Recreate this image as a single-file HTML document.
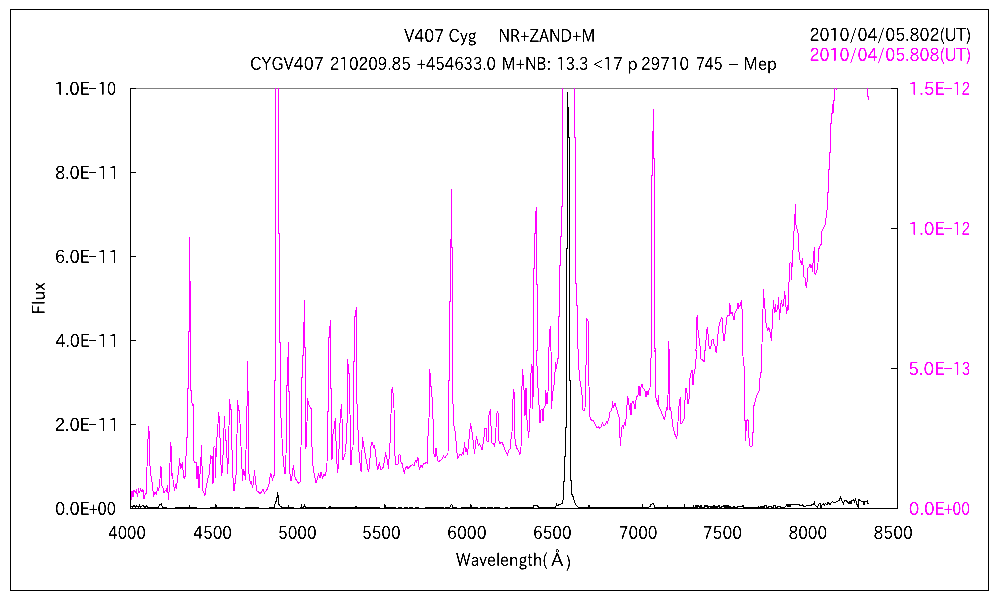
<!DOCTYPE html>
<html><head><meta charset="utf-8"><title>V407 Cyg spectrum</title>
<style>html,body{margin:0;padding:0;background:#fff}svg{display:block}text{font-family:"IPAPGothic","IPAGothic","Liberation Sans",sans-serif;white-space:pre}</style>
</head><body>
<svg width="1000" height="600" viewBox="0 0 1000 600" style="will-change:transform">
<rect x="0" y="0" width="1000" height="600" fill="#fff"/>
<rect x="10.5" y="9.5" width="978" height="581" fill="none" stroke="#000" stroke-width="1" shape-rendering="crispEdges"/>
<defs><clipPath id="pc"><rect x="130" y="88" width="768" height="421"/></clipPath></defs>
<line x1="130" y1="88.5" x2="898" y2="88.5" stroke="#808080" stroke-width="1" shape-rendering="crispEdges"/>
<g clip-path="url(#pc)">
<polyline points="130.5,503.5 131,500 132,491 133,497 134,490 135.5,492 136.5,490 137.5,497 138.5,488.5 139.5,493 140.5,489 142,492 143,489.5 144,499 145,495 146.5,493 147,467 148.5,426 149.5,435.5 150,465.5 151,476 152.5,485.5 153.5,497 155,492 156.5,494 157.5,487.5 158.5,491 159.5,485 161,466.5 162,486 163,488 164,493 165.5,490.5 166.5,491 167.5,485.5 168.5,500 169.5,484 170.5,442.5 171.5,450 172,476 172.5,473 173.5,485.5 174.5,489 175.5,486 176.5,489 177.5,476.5 178.5,474 179.5,458.5 180.5,468 181.5,467 182.5,462 183.5,477 184.5,478 185.5,475 186.5,438 187.5,437 187.5,390 187.5,388 188.5,388 188.5,331 189.5,331 189.5,237 189.5,281 190.5,281 190.5,390 191,390 192,403 193,405.5 193.5,404.5 194,461 195,463 196,462 197,479 198,466 199,488 199.5,480 200.5,469 201.5,445 202,466 203,491 204,493 205,495.5 206,488 207.5,480 208.5,476 209.5,474 210.5,455 211.5,458 212.5,456 213,484 214,447 215,446 215.5,478 216.5,438 217.5,436 218.5,412 219.5,420 220.5,454 221.5,476 222.5,470 223.5,441 224.5,416 225.5,440 226.5,441 227.5,474 228.5,454 229.5,399 230.5,409 231,409 232,450 233,478 234,491 235.5,480 236.5,470 237.5,400 238.5,410 239.5,410 240.5,436 241.5,456 242.5,481 243.5,470 244.5,472 245.5,480 246.5,421 247.5,392 247.5,361 247.5,391 248.5,392 249,474 250.5,484 251.5,481 252.5,488 253.5,483 254.5,470 255.5,482 257,491 258.5,492 260,494 261.5,492 263,489 264.5,493 266,491 267.5,489 269,484 270.5,473.5 271.5,475 272.5,481 273.5,476 274.5,475 274.5,390 274.5,381 275.5,380 275.5,80 278.5,80 278.5,233 279.5,233 279.5,342 280.5,342 280.5,390 281,418 282.5,448 283.5,464 285,474 286,456 286.5,393 286.5,385 287.5,385 287.5,357 288.5,357 288.5,342 288.5,390 289.5,393 290,474 291,481 292,476 293.5,465 294.5,474 295.5,479 297,481 298.5,483 300,482 301,448 301.5,390 301.5,377 302.5,377 302.5,355 303.5,355 303.5,322 304.5,322 304.5,300 304.5,347 305.5,347 305.5,390 305.5,448 306.5,446.5 307.5,398 308.5,404 310,407 311.5,409 312,447 313,466 314.5,476 316,483 317.5,478 318.5,474 320,478 321,472.5 322.5,478 324,474 325,476 326,472 327,464 327.5,413 328.5,410 328.5,390 328.5,337 329.5,337 329.5,326 330.5,326 330.5,320 330.5,388 331.5,388 331.5,390 332,459.5 333,434 334,429 335.5,418 336,441 337,464 337.5,473 338.5,465 339.5,433 340.5,414 341.5,404 342.5,432 343,460 344,457 345.5,452.5 346.5,436 347.5,410 347.5,390 347.5,359 347.5,364 348.5,364 348.5,373 349.5,373 349.5,390 349.5,390 350.5,437.5 351,465 352,450 353,448 353.5,390 353.5,361 354.5,361 354.5,316 355.5,316 355.5,310 356.5,310 356.5,307 356.5,390 356.5,390 356.5,398 357.5,410 358.5,448 359.5,456 360.5,469 361.5,472 362,450 362.5,437.5 363.5,444 364.5,450 366,459 367.5,467 368.5,472 369.5,467 370.5,450 371.5,442.5 372.5,443 373.5,447 374.5,446 375.5,452 376.5,462 377.5,470 378.5,467 379.5,462 380.5,469 382,469 383.5,467 384.5,460 385.5,453.5 386.5,456 387.5,461 388.5,469 389.5,450 390.5,436 391.5,392 392.5,387 393,393 394,408 394.5,448 395.5,464 396.5,464.5 398,464 399,455 400,454.5 401,462 402.5,464 403.5,471 404.5,473 405.5,468 407,466.5 408,469 409.5,467 411,465.5 412.5,464.5 414,465.5 415.5,460.5 416.5,462 418,457.5 418.5,465 419.5,468.5 421,465.5 422.5,467.5 423.5,463.5 425,464 426,462.5 427.5,463 428,436 429,418 429.5,390 429.5,369 429.5,373 430.5,373 430.5,386 431.5,386 431.5,390 431.5,390 432.5,404 433.5,433 434,454 435,457 436,448 437,456 438,461 439.5,461 441,460 442.5,458.5 443.5,456 445,458 446.5,455.5 448,454.5 448.5,390 448.5,380 449.5,380 449.5,301 450.5,301 450.5,239 451.5,239 451.5,189 451.5,247 452.5,247 452.5,390 452.5,390 453,404 454,426 455.5,433 456.5,448 457.5,458 458.5,457 460,454.5 461.5,455 462.5,453 463.5,454 464.5,442.5 465.5,452 466.5,448 467.5,455 468.5,444 469.5,435 470.5,423 471.5,428 472.5,436 473.5,443 474.5,454 475.5,444 476.5,436 477.5,442.5 478.5,445 479.5,443.5 480.5,446 482,450 483,444 484,437 485,428.5 486.5,429 487,441 488,442 489,415 490.5,409.5 491,426 492,443 493.5,443.5 494.5,446 495.5,440 496.5,416 497.5,411 498.5,415 499,441 500,444 501,442.5 502.5,443 503.5,446 505,450 506.5,453.5 507.5,455 508.5,451 510,449 511,439 512,432 512.5,408 513.5,390 513.5,389 514.5,395 515,438.5 515.5,444 517,448.5 518.5,450.5 519.5,453 520,454.5 521,448 521.5,404 522.5,369 523.5,380 524.5,399 525,416 526,388 527,420 528,431 528.5,438 529.5,426 530.5,392 531,373 532,364 532.5,409 533.5,386 533.5,350 533.5,268 534.5,268 534.5,233 535.5,233 535.5,211 536.5,211 536.5,207 536.5,284 537.5,284 537.5,350 536.5,350 537.5,382 538.5,393 539,405 540,423 541,410 542,409 543,421 544,408 545,406 545.5,390 546.5,396 547,404 548,392 549,350 548.5,350 549.5,344 549.5,333 550.5,326 550.5,350 551,350 551.5,409 552.5,394 553.5,388 554.5,382 555.5,362 556.5,369 557.5,359 558.5,358 559,350 558.5,350 558.5,316 559.5,316 559.5,265 560.5,265 560.5,236 561.5,236 561.5,206 562.5,206 562.5,80 574.5,80 574.5,137 575.5,137 575.5,283 576.5,283 576.5,305 577.5,305 577.5,348 578.5,350 579,370 580,381 581,387 582,395 583,410 584,411 585,408 585.5,381 586.5,350 586.5,319 587.5,320 588.5,322 588.5,350 588.5,350 589,386 589.5,414 590.5,419 592,421 593,420 594.5,423.5 595.5,425 597,428 598.5,427 599.5,428 601,427 602.5,423 603.5,425.5 605,425 606.5,422 607.5,423 609,418 610,412 611,411 612,408 612.5,401 613.5,408 615,403 616,407 617,410 618,414 619,417 619.5,430 620.5,446 621.5,428 622.5,426 623.5,428 624.5,423 625.5,425 626.5,414 627.5,396.5 628.5,399 629.5,410 630.5,403 631,415 632,403 633,401.5 634,404 635,409 636,400 637,396.5 638,395 639,386 640,396 641,387 642,384 643,388 644,389 645,391 646,397 647,391 648,395 649,390 650,388 650.5,366 651.5,350 651.5,230 651.5,175 652.5,175 652.5,131 653.5,131 653.5,109 653.5,158 654.5,158 654.5,348 655.5,348 655,350 655.5,397 656.5,399 657.5,405 658.5,395 659,407 660,409 661,411 662.5,415 663.5,417 664.5,420 665.5,414 666.5,408 667.5,410 668,396 668.5,350 668.5,341 669.5,357 670,410 670.5,407 671.5,414 672.5,424 673.5,429 674.5,433 675.5,436 676.5,438 677.5,434 678.5,410 679.5,402 680.5,397 681,423 682,423 683,421 684,419 685,400 686,388 687,393 688,404 689,399 690,378 691,373 692,370 693,385 694,374 695,369 696,359 697,350 696,350 696.5,319 697.5,315 698,330 699,338 700,346 700.5,350 701,359 702.5,360 704,362 705,350 705.5,350 706.5,330 707.5,328 708,334 709,346 710,349 711,346 712,340 713,339 714,344 715,346 715.5,350 716.5,353 717,346 717,345 717.5,339 718.5,329 719.5,324 720.5,320 721.5,318 722.5,319 723,333 724,341 725,334 726,325 727,317 728,315 729,316 729.5,303 730.5,307 731,314 732,312 733,316 734,320 735,313 736,311 737,309 738,303 738.5,308 739.5,306 740.5,305 741.5,300 742,309 742.5,311 742.5,345 742.5,347 743.5,365 744.5,367 744.5,420 745.5,421 745.5,441 746.5,421 747.5,420 748.5,421 748.5,434 750,446 752,446.5 752.5,433 753.5,432 753.5,407 754.5,404 756.5,396 759,391.5 759.5,382 760.5,374 761.5,371 762,344 762,343 762.5,329 763.5,289 764.5,306 765,309 765.5,321 766.5,325 767.5,331 768.5,328 769.5,329 770.5,335 771.5,341 772,329 772.5,319 773.5,300 774.5,313 775.5,304 776,312 777,310 778,305 778.5,297 779.5,320 780.5,307 781.5,300 782.5,307 783.5,304 784,299 784.5,291 785.5,299 786.5,314 787.5,305 788,311 788.5,283 789.5,281 790,263 791,262 791.5,280 792.5,255 793.5,246 794,231 794.5,225 795.5,204 796,225 797,229 798,233 798.5,245 799.5,258 800.5,262 801.5,264 802.5,258 803,265 804,277 805,278 805.5,284 806.5,288 807.5,277 808,268 809,267 810,264 811,268 812,265 812.5,272 813.5,255 814.5,247 814.5,273 815.5,274 816.5,272 817.5,268 818,263 818.5,250 819.5,247 820.5,245 821.5,244 822,231 823,229 824,227 825,225 826.5,215 827.5,205 827.5,192 828.5,192 828.5,169 829.5,169 829.5,152 830.5,152 830.5,123 831.5,123 831.5,113 832.5,113 832.5,104 832.5,112 833.5,112 833.5,100 834.5,100 834.5,80 836.5,80 836.5,90 836.5,80 867.5,80 867.5,96 868.5,96 868.5,100" fill="none" stroke="#ff00ff" stroke-width="1" shape-rendering="crispEdges"/>
<polyline points="130.5,506.5 131.5,506.5 132.5,507.5 133.5,505.5 134.5,505.5 135.5,507.5 136.5,505.5 137.5,506.5 138.5,507.5 139.5,505.5 140.5,507.5 141.5,506.5 142.5,505.5 143.5,505.5 144.5,507.5 145.5,507.5 146.5,505.5 147.5,506.5 148,507.5 158,507.5 158.5,507.5 159.5,504.5 161.5,504 162.5,507.5 162.5,507.5 166,507.5 166,508.5 175,508.5 175,507.5 189,507.5 189,507.5 189.5,505 190,507.5 190,507.5 196,507.5 196,508.5 210,508.5 210,507.5 215.5,507.5 215.5,507.5 216,504.5 216.5,507.5 216.5,507.5 232,507.5 232,508.5 234,508.5 234,507.5 239,507.5 239,508.5 245,508.5 245,507.5 258,507.5 258,508.5 269.5,508.5 269.5,507.5 274.5,507.5 274.5,508 275.5,501 276.5,501 276.5,497 277.5,497 277.5,492 277.5,495 278.5,495 278.5,504 279.5,504.5 280,506 281,506.5 281.5,507.5 281.5,507.5 288,507.5 288,507.5 288.5,505 289,507.5 289,507.5 293,507.5 293,508.5 300.5,508.5 300.5,507.5 301,507.5 301.5,507.5 301.5,504 302,508 303.5,507 304.5,505 305,506.5 306,507.5 306,507.5 325,507.5 325,508.5 328,508.5 328,507.5 329.5,507.5 329.5,507.5 330,506 330.5,507.5 330.5,507.5 355.5,507.5 355.5,507.5 356,506 356.5,507.5 356.5,507.5 379,507.5 379,508.5 384,508.5 384,507.5 384.5,507.5 384.5,507.5 385,504.5 385.5,507.5 385.5,507.5 395,507.5 395,508.5 398,508.5 398,507.5 401,507.5 401,508.5 404,508.5 404,507.5 407,507.5 407,508.5 409,508.5 409,507.5 412,507.5 412,508.5 415,508.5 415,507.5 418,507.5 418,508.5 425,508.5 425,507.5 443,507.5 443,508.5 445,508.5 445,507.5 450,507.5 450,507.5 450.5,505.5 451.5,504.5 452.5,506 453,507.5 453,507.5 456,507.5 456,508.5 461,508.5 461,507.5 470.5,507.5 470.5,507.5 471,504.5 471.5,507.5 471.5,507.5 477,507.5 477,508.5 480,508.5 480,507.5 485,507.5 485,508.5 487,508.5 487,507.5 492,507.5 492,508.5 494,508.5 494,507.5 499,507.5 499,508.5 505,508.5 505,507.5 507,507.5 507,508.5 510,508.5 510,507.5 533,507.5 533,507.5 534,505.5 537,505.5 539,507.5 539,507.5 555.5,507.5 555.5,507.5 556.5,504.5 557,506 558.5,505 560.5,504.5 562.5,503 563.5,496.5 563.5,481 564.5,481 564.5,456 565.5,456 565.5,427 566.5,427 566.5,248 567.5,248 567.5,92 567.5,107 568.5,107 568.5,137 569.5,137 569.5,380 570.5,380 570.5,480 571.5,480.5 572,494.5 573,496.5 574.5,501.5 576,505 577.5,506.5 578.5,507.5 578.5,507.5 588.5,507.5 588.5,507.5 589,505 589.5,507.5 589.5,507.5 642,507.5 642,507.5 642.5,504 643,507.5 643,507.5 648,507.5 648,507.5 650,506.5 651,504.5 653,503.5 654,504.5 654.5,507.5 654.5,507.5 667,507.5 667,507.5 667.5,505 668,507.5 668,507.5 684,507.5 684,507.5 684.5,504.5 685,507.5 685,507.5 693,507.5 693,505.5 694,507.5 695,507.5 696,505.5 697,507.5 698,505.5 699,506.5 700,507.5 701,505.5 702,507.5 703,507.5 704,507.5 705,505.5 706,506.5 707,505.5 708,507.5 709,506.5 710,506.5 711,507.5 712,506.5 713,507.5 714,505.5 715,507.5 716,506.5 717,507.5 718,506.5 719,505.5 720,507.5 721,507.5 722,506.5 723,506.5 724,505.5 725,507.5 726,505.5 727,507.5 728,505.5 729,507.5 730,506.5 731,507.5 732,507.5 733,507.5 734,506.5 735,507.5 736,507.5 737,507.5 738,506.5 739,506.5 740,506.5 741,506.5 742,506.5 743,505.5 744,507.5 745,507.5 758,507.5 758,506 759,507.5 760,507.5 761,506 762,507.5 763,506 764,507.5 765,505 766,505 767,507.5 768,507.5 769,506 770,506 771,506 772,507.5 773,507.5 774,505 775,505 776,507.5 777,507.5 778,506 779,506 780,506 781,507.5 782,507.5 783,507.5 784,507.5 785,507 787,504.5 788,507 789,504.5 790,506.5 791,504.5 799,504.5 801,506 802.5,505 804,506.5 806,506 808,505.5 810,506 811.5,505 813.5,504.5 814.5,501 814.5,504.5 816,506 817.5,507.5 818.5,504.5 820,503.5 821,507.5 822,505 823.5,504 824.5,505 825.5,503.5 827,504.5 828,502 829,503.5 830,504.5 831,503 832.5,501.5 834,502.5 836,502 837.5,501.5 839,500.5 840.5,497 841.5,500 842.5,502 843.5,504 844.5,500.5 846,500.5 847.5,502 849,503.5 850,501.5 851,503.5 852,500.5 853.5,499.5 854.5,501.5 855.5,499.5 856.5,503 857.5,506 858.5,508 859,499 860,500.5 861.5,501.5 863,501.5 864,505 865,501.5 866.5,501.5 867.5,500.5 868,503.5 868.5,504" fill="none" stroke="#000" stroke-width="1" shape-rendering="crispEdges"/>
</g>
<g stroke="#000" stroke-width="1" shape-rendering="crispEdges" fill="none">
<line x1="130.5" y1="88" x2="130.5" y2="509"/>
<line x1="897.5" y1="88" x2="897.5" y2="509"/>
<line x1="130" y1="508.5" x2="898" y2="508.5"/>
<line x1="130" y1="88.5" x2="136" y2="88.5"/>
<line x1="130" y1="172.5" x2="136" y2="172.5"/>
<line x1="130" y1="256.5" x2="136" y2="256.5"/>
<line x1="130" y1="340.5" x2="136" y2="340.5"/>
<line x1="130" y1="424.5" x2="136" y2="424.5"/>
<line x1="130" y1="508.5" x2="136" y2="508.5"/>
<line x1="891" y1="88.5" x2="898" y2="88.5"/>
<line x1="891" y1="228.5" x2="898" y2="228.5"/>
<line x1="891" y1="368.5" x2="898" y2="368.5"/>
<line x1="891" y1="508.5" x2="898" y2="508.5"/>
</g>
<defs><filter id="th" x="0" y="0" width="1000" height="600" filterUnits="userSpaceOnUse" color-interpolation-filters="sRGB"><feComponentTransfer><feFuncA type="linear" slope="3" intercept="-0.85"/></feComponentTransfer></filter></defs>
<g filter="url(#th)">
<text id="t1" font-size="18" fill="#000"><tspan x="404.3" y="42.2" textLength="72.24" lengthAdjust="spacingAndGlyphs">V407 Cyg</tspan>    <tspan x="498.55" y="42.2" textLength="96.79" lengthAdjust="spacingAndGlyphs">NR+ZAND+M</tspan></text>
<text id="t2" font-size="18" fill="#000"><tspan x="250.05" y="69.7" textLength="73.82" lengthAdjust="spacingAndGlyphs">CYGV407</tspan> <tspan x="329.75" y="69.7" textLength="81.02" lengthAdjust="spacingAndGlyphs">210209.85</tspan> <tspan x="416.5" y="69.7" textLength="79.35" lengthAdjust="spacingAndGlyphs">+454633.0</tspan> <tspan x="501.85" y="69.7" textLength="49.49" lengthAdjust="spacingAndGlyphs">M+NB:</tspan> <tspan x="556.3" y="69.7" textLength="32.22" lengthAdjust="spacingAndGlyphs">13.3</tspan> <tspan x="593.3" y="69.7" textLength="29.46" lengthAdjust="spacingAndGlyphs">&lt;17</tspan> <tspan x="627.55" y="69.7" textLength="10.14" lengthAdjust="spacingAndGlyphs">p</tspan> <tspan x="641.1" y="69.7" textLength="48.07" lengthAdjust="spacingAndGlyphs">29710</tspan> <tspan x="696.05" y="69.7" textLength="26.43" lengthAdjust="spacingAndGlyphs">745</tspan> <tspan x="727.3" y="69.7" textLength="12.2" lengthAdjust="spacingAndGlyphs">-</tspan> <tspan x="743.55" y="69.7" textLength="33.31" lengthAdjust="spacingAndGlyphs">Mep</tspan></text>
<text id="d1" x="809.55" y="40.7" font-size="18" fill="#000" textLength="161.76" lengthAdjust="spacingAndGlyphs">2010/04/05.802(UT)</text>
<text id="d2" x="809.55" y="61.45" font-size="18" fill="#ff00ff" textLength="161.76" lengthAdjust="spacingAndGlyphs">2010/04/05.808(UT)</text>
<text id="yl0" font-size="18" fill="#000"><tspan x="54.55" y="94.95" textLength="35.07" lengthAdjust="spacingAndGlyphs">1.0E</tspan><tspan x="88" y="94.05" textLength="9.53" lengthAdjust="spacingAndGlyphs">-</tspan><tspan x="97.9" y="94.95" textLength="18.2" lengthAdjust="spacingAndGlyphs">10</tspan></text>
<text id="yl1" font-size="18" fill="#000"><tspan x="55" y="178.95" textLength="34.55" lengthAdjust="spacingAndGlyphs">8.0E</tspan><tspan x="88" y="178.05" textLength="9.53" lengthAdjust="spacingAndGlyphs">-</tspan><tspan x="97.4" y="178.95" textLength="22.2" lengthAdjust="spacingAndGlyphs">11</tspan></text>
<text id="yl2" font-size="18" fill="#000"><tspan x="54.75" y="262.95" textLength="34.81" lengthAdjust="spacingAndGlyphs">6.0E</tspan><tspan x="88" y="262.05" textLength="9.53" lengthAdjust="spacingAndGlyphs">-</tspan><tspan x="97.4" y="262.95" textLength="22.2" lengthAdjust="spacingAndGlyphs">11</tspan></text>
<text id="yl3" font-size="18" fill="#000"><tspan x="55.5" y="346.95" textLength="34.03" lengthAdjust="spacingAndGlyphs">4.0E</tspan><tspan x="88" y="346.05" textLength="9.53" lengthAdjust="spacingAndGlyphs">-</tspan><tspan x="97.4" y="346.95" textLength="22.2" lengthAdjust="spacingAndGlyphs">11</tspan></text>
<text id="yl4" font-size="18" fill="#000"><tspan x="54.75" y="430.95" textLength="34.81" lengthAdjust="spacingAndGlyphs">2.0E</tspan><tspan x="88" y="430.05" textLength="9.53" lengthAdjust="spacingAndGlyphs">-</tspan><tspan x="97.4" y="430.95" textLength="22.2" lengthAdjust="spacingAndGlyphs">11</tspan></text>
<text id="yl5" font-size="18" fill="#000"><tspan x="55" y="514.95" textLength="34.55" lengthAdjust="spacingAndGlyphs">0.0E</tspan><tspan x="88.5" y="514.95" textLength="9.66" lengthAdjust="spacingAndGlyphs">+</tspan><tspan x="97.6" y="514.95" textLength="18.39" lengthAdjust="spacingAndGlyphs">00</tspan></text>
<text id="yr0" font-size="18" fill="#ff00ff"><tspan x="908.55" y="95" textLength="36.08" lengthAdjust="spacingAndGlyphs">1.5E</tspan><tspan x="943" y="94.1" textLength="10.35" lengthAdjust="spacingAndGlyphs">-</tspan><tspan x="953.05" y="95" textLength="17.05" lengthAdjust="spacingAndGlyphs">12</tspan></text>
<text id="yr1" font-size="18" fill="#ff00ff"><tspan x="908.55" y="235" textLength="36.08" lengthAdjust="spacingAndGlyphs">1.0E</tspan><tspan x="943" y="234.1" textLength="10.35" lengthAdjust="spacingAndGlyphs">-</tspan><tspan x="953.05" y="235" textLength="17.05" lengthAdjust="spacingAndGlyphs">12</tspan></text>
<text id="yr2" font-size="18" fill="#ff00ff"><tspan x="908.35" y="375" textLength="36.22" lengthAdjust="spacingAndGlyphs">5.0E</tspan><tspan x="943" y="374.1" textLength="10.35" lengthAdjust="spacingAndGlyphs">-</tspan><tspan x="953.05" y="375" textLength="17.37" lengthAdjust="spacingAndGlyphs">13</tspan></text>
<text id="yr3" font-size="18" fill="#ff00ff"><tspan x="908.85" y="515" textLength="35.69" lengthAdjust="spacingAndGlyphs">0.0E</tspan><tspan x="943.5" y="515" textLength="9.66" lengthAdjust="spacingAndGlyphs">+</tspan><tspan x="952.6" y="515" textLength="17.39" lengthAdjust="spacingAndGlyphs">00</tspan></text>
<text id="xl0" x="108.35" y="539.2" font-size="18" fill="#000" textLength="37.43" lengthAdjust="spacingAndGlyphs">4000</text>
<text id="xl1" x="193.3" y="539.2" font-size="18" fill="#000" textLength="38.74" lengthAdjust="spacingAndGlyphs">4500</text>
<text id="xl2" x="278" y="539.2" font-size="18" fill="#000" textLength="38.59" lengthAdjust="spacingAndGlyphs">5000</text>
<text id="xl3" x="362" y="539.2" font-size="18" fill="#000" textLength="38.59" lengthAdjust="spacingAndGlyphs">5500</text>
<text id="xl4" x="447.05" y="539.2" font-size="18" fill="#000" textLength="39.53" lengthAdjust="spacingAndGlyphs">6000</text>
<text id="xl5" x="533.1" y="539.2" font-size="18" fill="#000" textLength="38.41" lengthAdjust="spacingAndGlyphs">6500</text>
<text id="xl6" x="618.8" y="539.2" font-size="18" fill="#000" textLength="38.7" lengthAdjust="spacingAndGlyphs">7000</text>
<text id="xl7" x="702.8" y="539.2" font-size="18" fill="#000" textLength="39.26" lengthAdjust="spacingAndGlyphs">7500</text>
<text id="xl8" x="788.5" y="539.2" font-size="18" fill="#000" textLength="38.62" lengthAdjust="spacingAndGlyphs">8000</text>
<text id="xl9" x="873.55" y="539.2" font-size="18" fill="#000" textLength="39.26" lengthAdjust="spacingAndGlyphs">8500</text>
<text id="w" font-size="18" fill="#000"><tspan x="456.05" y="565.7" textLength="91.49" lengthAdjust="spacingAndGlyphs">Wavelength(</tspan><tspan x="551.3" y="565.7" textLength="12" lengthAdjust="spacingAndGlyphs">Å</tspan><tspan x="566.05" y="568.2" textLength="5.25" lengthAdjust="spacingAndGlyphs">)</tspan></text>
<text id="fx" transform="translate(45,314.5) rotate(-90)" font-size="18" fill="#000" textLength="32.08" lengthAdjust="spacingAndGlyphs">Flux</text>
</g>
</svg></body></html>
